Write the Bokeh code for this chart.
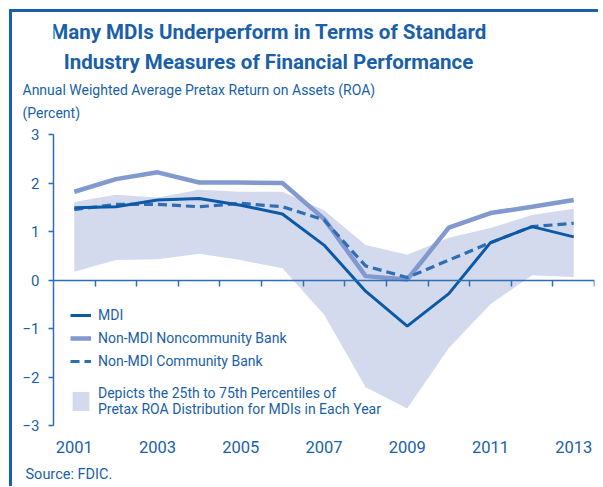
from bokeh.plotting import figure
from bokeh.layouts import column
from bokeh.models import (Range1d, LinearAxis, FixedTicker, Label, Legend, LegendItem,
                          ColumnDataSource, Title)
from bokeh.embed import file_html
from bokeh.resources import INLINE

years = list(range(2001, 2014))
mdi = [1.49, 1.51, 1.65, 1.68, 1.54, 1.36, 0.72, -0.23, -0.95, -0.28, 0.77, 1.10, 0.89]
noncommunity = [1.82, 2.08, 2.22, 2.01, 2.01, 2.00, 1.26, 0.08, 0.01, 1.08, 1.38, 1.51, 1.65]
community = [1.45, 1.56, 1.56, 1.51, 1.58, 1.51, 1.24, 0.29, 0.05, 0.41, 0.77, 1.10, 1.17]
p75 = [1.61, 1.76, 1.70, 1.86, 1.82, 1.82, 1.44, 0.72, 0.52, 0.87, 1.07, 1.34, 1.47]
p25 = [0.17, 0.41, 0.43, 0.54, 0.41, 0.24, -0.71, -2.21, -2.65, -1.40, -0.50, 0.10, 0.06]
y_ticks = [-3, -2, -1, 0, 1, 2, 3]
x_label_years = [2001, 2003, 2005, 2007, 2009, 2011, 2013]
x_tick_marks = [y + 0.5 for y in years]

title_lines = ["Many MDIs Underperform in Terms of Standard",
               "Industry Measures of Financial Performance"]
subtitle_lines = ["Annual Weighted Average Pretax Return on Assets (ROA)", "(Percent)"]
source_text = "Source: FDIC."
legend_labels = ["MDI", "Non-MDI Noncommunity Bank", "Non-MDI Community Bank",
                 "Depicts the 25th to 75th Percentiles of\nPretax ROA Distribution for MDIs in Each Year"]

FONT = "Roboto"
BLUE = "#1a5fa9"
DARK = "#0c5aa6"
LIGHT = "#8199cf"
DASH = "#2f6db5"
BAND = "#d4daed"
W = 586


def blank_fig(h):
    f = figure(width=W, height=h, output_backend="svg", toolbar_location=None,
               x_range=Range1d(0, 1), y_range=Range1d(0, 1),
               x_axis_location=None, y_axis_location=None,
               min_border_left=0, min_border_right=0, min_border_top=0, min_border_bottom=0)
    f.outline_line_color = None
    f.grid.visible = False
    f.title = None
    return f


def side_title(txt, size, standoff):
    return Title(text=txt, align="left", offset=-31, vertical_align="middle",
                 text_font=FONT, text_font_size=size, text_font_style="normal",
                 text_color=BLUE, standoff=standoff)


# ---------- header ----------
header = blank_fig(112)
for txt, y in zip(title_lines, [47, 17]):
    header.add_layout(Label(x=215, y=y, x_units="screen", y_units="screen", text=txt,
                            text_align="center", text_baseline="middle", text_font=FONT,
                            text_font_style="bold", text_font_size="20.5px", text_color=BLUE))
for txt in subtitle_lines:
    header.add_layout(side_title(txt, "14px", 5), "below")

# ---------- chart ----------
src = ColumnDataSource(dict(year=years, mdi=mdi, non=noncommunity, com=community,
                            p25=p25, p75=p75))

p = figure(width=W, height=338, output_backend="svg", toolbar_location=None,
           x_range=Range1d(2000.5, 2013.5), y_range=Range1d(-3, 3),
           min_border_left=41, min_border_right=4, min_border_top=10, min_border_bottom=37)
p.outline_line_color = None
p.grid.visible = False

band = p.varea(x="year", y1="p25", y2="p75", source=src, fill_color=BAND)
r_non = p.line("year", "non", source=src, line_color=LIGHT, line_width=4.5)
r_com = p.line("year", "com", source=src, line_color=DASH, line_width=3.2, line_dash="9 5")
r_mdi = p.line("year", "mdi", source=src, line_color=DARK, line_width=3)

xa = p.xaxis[0]
xa.ticker = FixedTicker(ticks=x_label_years)
xa.axis_line_color = None
xa.major_tick_line_color = None
xa.minor_tick_line_color = None
xa.major_tick_out = 0
xa.major_tick_in = 0
xa.major_label_standoff = 15
xa.major_label_text_font = FONT
xa.major_label_text_font_size = "16.5px"
xa.major_label_text_color = BLUE

za = LinearAxis(fixed_location=0, ticker=FixedTicker(ticks=x_tick_marks))
za.axis_line_color = DASH
za.axis_line_width = 1.5
za.major_tick_line_color = DASH
za.major_tick_line_width = 1.5
za.major_tick_out = 0
za.major_tick_in = 6
za.minor_tick_line_color = None
za.major_label_standoff = 0
za.major_label_overrides = {t: "" for t in x_tick_marks}
za.major_label_text_font_size = "1px"
p.add_layout(za, "above")

ya = p.yaxis[0]
ya.ticker = FixedTicker(ticks=y_ticks)
ya.axis_line_color = DASH
ya.axis_line_width = 1.5
ya.major_tick_line_color = DASH
ya.major_tick_line_width = 1.5
ya.major_tick_out = 5
ya.major_tick_in = 0
ya.minor_tick_line_color = None
ya.major_label_standoff = 9
ya.major_label_text_font = FONT
ya.major_label_text_font_size = "15px"
ya.major_label_text_color = BLUE


def style_legend(lg):
    lg.background_fill_alpha = 0
    lg.border_line_color = None
    lg.padding = 0
    lg.margin = 0
    lg.label_standoff = 7
    lg.label_text_font = FONT
    lg.label_text_font_size = "14px"
    lg.label_text_color = BLUE
    lg.label_text_line_height = 1.45


legend1 = Legend(items=[
    LegendItem(label=legend_labels[0], renderers=[r_mdi]),
    LegendItem(label=legend_labels[1], renderers=[r_non]),
    LegendItem(label=legend_labels[2], renderers=[r_com]),
], location=(17, 54))
style_legend(legend1)
legend1.spacing = 3
legend1.glyph_width = 21
legend1.glyph_height = 20
legend1.label_height = 20
p.add_layout(legend1)

legend2 = Legend(items=[LegendItem(label=legend_labels[3], renderers=[band])],
                 location=(17, 8))
style_legend(legend2)
legend2.glyph_width = 21
legend2.glyph_height = 24
p.add_layout(legend2)

# ---------- footer ----------
footer = blank_fig(24)
footer.add_layout(Title(text=source_text, align="left", offset=-28, vertical_align="middle",
                        text_font=FONT, text_font_size="14.5px", text_font_style="normal",
                        text_color=BLUE, standoff=4), "above")

layout = column(header, p, footer, spacing=0,
                styles={"border-top": "3px solid " + BLUE, "border-left": "3px solid " + BLUE,
                        "margin-left": "9px", "margin-top": "9px"})

open("out.html", "w").write(file_html(layout, INLINE))
